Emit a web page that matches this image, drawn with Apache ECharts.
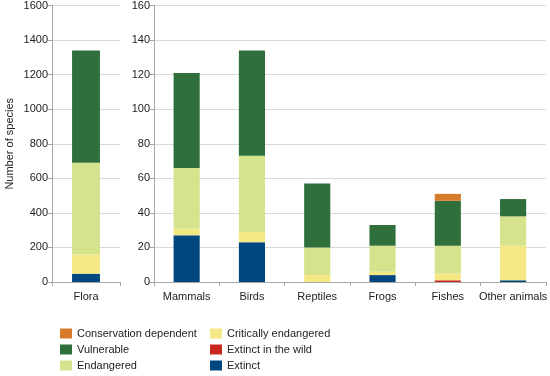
<!DOCTYPE html>
<html>
<head>
<meta charset="utf-8">
<script src="https://cdn.jsdelivr.net/npm/echarts@6/dist/echarts.min.js"></script>
<style>
  html, body { margin: 0; padding: 0; background: #fff; }
  #main { width: 550px; height: 376px; }
</style>
</head>
<body>
<div id="main"></div>
<script>
// categories: first one goes on the left (flora) axis, the rest on the animal axis
var groups = ['Flora', 'Mammals', 'Birds', 'Reptiles', 'Frogs', 'Fishes', 'Other animals'];

// species counts per status, same order as groups
var extinct        = [48, 27, 23, 0, 4, 0, 1];
var extinctWild    = [0, 0, 0, 0, 0, 1, 0];
var critical       = [112, 4, 6, 4, 2, 4, 20];
var endangered     = [530, 35, 44, 16, 15, 16, 17];
var vulnerable     = [650, 55, 61, 37, 12, 26, 10];
var consDependent  = [0, 0, 0, 0, 0, 4, 0];

var floraTicks = [0, 200, 400, 600, 800, 1000, 1200, 1400, 1600];
var animalTicks = [0, 20, 40, 60, 80, 100, 120, 140, 160];

var statuses = [
    { name: 'Extinct', data: extinct, color: '#00477f' },
    { name: 'Extinct in the wild', data: extinctWild, color: '#c7271d' },
    { name: 'Critically endangered', data: critical, color: '#f4e885' },
    { name: 'Endangered', data: endangered, color: '#d4e38c' },
    { name: 'Vulnerable', data: vulnerable, color: '#2f6f3c' },
    { name: 'Conservation dependent', data: consDependent, color: '#d87c2c' }
];

var chart = echarts.init(document.getElementById('main'));

var fontFam = '"Liberation Sans", Arial, sans-serif';
var axisGray = '#a6a6a6';

function yAxisFor(ticks, idx, name) {
    return {
        type: 'value',
        gridIndex: idx,
        min: ticks[0],
        max: ticks[ticks.length - 1],
        interval: ticks[1] - ticks[0],
        name: name,
        nameLocation: 'middle',
        nameGap: 37,
        nameTextStyle: { color: '#222', fontSize: 11, fontFamily: fontFam },
        axisLine: { show: true, lineStyle: { color: axisGray } },
        axisTick: { show: true, length: 4, lineStyle: { color: axisGray } },
        axisLabel: {
            color: '#222', fontSize: 11, fontFamily: fontFam, margin: 4,
            formatter: function (v) { return String(v); }
        },
        splitLine: { show: true, lineStyle: { color: '#d9d9d9' } }
    };
}

function xAxisFor(cats, idx) {
    return {
        type: 'category',
        gridIndex: idx,
        data: cats,
        axisLine: { show: true, lineStyle: { color: axisGray } },
        axisTick: { show: true, length: 4, lineStyle: { color: axisGray } },
        axisLabel: { color: '#222', fontSize: 11, fontFamily: fontFam, margin: 9, interval: 0 }
    };
}

var series = [];
statuses.forEach(function (s) {
    series.push({
        name: s.name, type: 'bar', stack: 'flora',
        xAxisIndex: 0, yAxisIndex: 0,
        barWidth: '41%',
        itemStyle: { color: s.color },
        data: s.data.slice(0, 1)
    });
    series.push({
        name: s.name, type: 'bar', stack: 'animals',
        xAxisIndex: 1, yAxisIndex: 1,
        barWidth: '40%',
        itemStyle: { color: s.color },
        data: s.data.slice(1)
    });
});

var legendCommon = {
    orient: 'vertical',
    top: 328,
    padding: 0,
    itemWidth: 12,
    itemHeight: 10,
    itemGap: 5,
    icon: 'rect',
    selectedMode: false,
    textStyle: { color: '#222', fontSize: 11, fontFamily: fontFam }
};

chart.setOption({
    animation: false,
    backgroundColor: '#fff',
    textStyle: { fontFamily: fontFam },
    grid: [
        { left: 52, width: 68, top: 5, bottom: 94 },
        { left: 154, right: 0, top: 5, bottom: 94 }
    ],
    xAxis: [xAxisFor(groups.slice(0, 1), 0), xAxisFor(groups.slice(1), 1)],
    yAxis: [yAxisFor(floraTicks, 0, 'Number of species'), yAxisFor(animalTicks, 1, '')],
    legend: [
        Object.assign({ left: 60, data: ['Conservation dependent', 'Vulnerable', 'Endangered'] }, legendCommon),
        Object.assign({ left: 210, data: ['Critically endangered', 'Extinct in the wild', 'Extinct'] }, legendCommon)
    ],
    series: series
});
</script>
</body>
</html>
